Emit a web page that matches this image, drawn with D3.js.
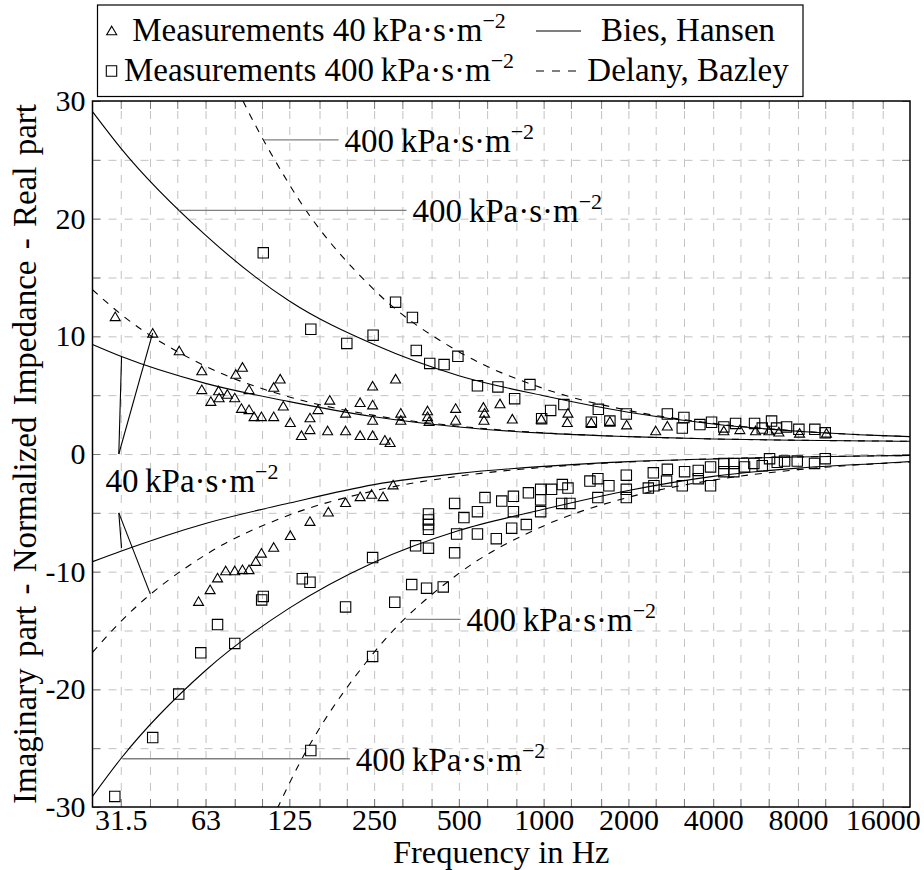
<!DOCTYPE html>
<html>
<head>
<meta charset="utf-8">
<title>Normalized impedance</title>
<script src="https://d3js.org/d3.v7.min.js"></script>
<style>
  body { margin: 0; background: #fff; }
  svg { font-family: "Liberation Serif", "DejaVu Serif", serif; }
</style>
</head>
<body>
<div id="chart"></div>
<script>
// axis ticks
var gridFreqs = [31.5, 40, 50, 63, 80, 100, 125, 160, 200, 250, 315, 400, 500, 630, 800,
                 1000, 1250, 1600, 2000, 2500, 3150, 4000, 5000, 6300, 8000, 10000, 12500, 16000];
var xLabels = [31.5, 63, 125, 250, 500, 1000, 2000, 4000, 8000, 16000];
var yLabels = [-30, -20, -10, 0, 10, 20, 30];
var yGrid = [-25, -20, -15, -10, -5, 0, 5, 10, 15, 20, 25];
var yTickMarks = [-30, -25, -20, -15, -10, -5, 0, 5, 10, 15, 20, 25, 30];

// model curves
var curveFreqs = [25, 31.5, 63, 125, 250, 500, 1000, 2000, 4000, 8000, 16000, 20000];
var biesReal400 = [29.1, 26.0, 18.6, 13.0, 9.3, 6.65, 4.95, 3.55, 2.55, 1.93, 1.56, 1.48];
var biesReal40  = [9.3, 8.3, 6.0, 4.45, 3.17, 2.3, 1.77, 1.48, 1.28, 1.17, 1.10, 1.08];
var biesImag400 = [-29.1, -25.9, -18.4, -13.1, -9.2, -6.5, -4.7, -3.1, -1.9, -1.2, -0.78, -0.65];
var biesImag40  = [-9.15, -8.26, -5.9, -4.17, -2.6, -1.65, -1.05, -0.65, -0.42, -0.25, -0.15, -0.12];
var delanyReal400 = [74.5, 62.8, 37.6, 22.9, 13.96, 8.69, 5.56, 3.70, 2.60, 1.95, 1.56, 1.48];
var delanyReal40  = [13.96, 11.89, 7.46, 4.85, 3.28, 2.36, 1.80, 1.48, 1.28, 1.17, 1.10, 1.08];
var delanyImag400 = [-91.0, -76.8, -46.2, -28.0, -16.86, -10.15, -6.11, -3.68, -2.22, -1.33, -0.80, -0.68];
var delanyImag40  = [-16.86, -14.24, -8.57, -5.19, -3.13, -1.88, -1.13, -0.68, -0.41, -0.25, -0.15, -0.13];

// measurements [frequency, value]
var meas40Real = [[30.1,11.7],[40.9,10.3],[50.8,8.8],[61.1,7.1],[85.2,7.4],[80.7,6.8],[116,6.4],[110,5.7],
  [61.1,5.5],[70.1,5.4],[89.9,5.5],[75.3,5.1],[70.4,4.8],[80.0,4.8],[65.8,4.5],[119,4.1],[84.5,3.9],
  [89.9,3.8],[93.7,3.2],[99.5,3.2],[110,3.2],[126,2.7],[148,3.1],[158,3.8],[148,2.1],[138,1.6],[171,2.0],
  [174,4.6],[198,3.5],[198,2.0],[223,4.4],[223,1.6],[247,5.8],[247,4.2],[247,2.9],[247,1.6],[273,1.2],
  [285,1.0],[298,6.4],[311,3.5],[311,2.9],[387,3.7],[387,3.2],[392,2.8],[487,3.9],[487,2.9],[611,4.0],
  [617,3.5],[614,2.9],[700,4.3],[774,3.0],[981,3.0],[1220,3.5],[1214,2.7],[1477,2.7],[1719,2.8],
  [1971,2.5],[2500,2.0],[2750,2.4],[4365,2.0],[4976,2.1],[5657,2.0],[6307,2.0],[6845,1.9],[8106,1.8],
  [10100,1.8]];
var meas40Imag = [[172,-4.9],[148,-5.7],[126,-6.9],[110,-7.9],[99.5,-8.4],[95.0,-9.1],[89.9,-9.8],
  [85.2,-9.8],[80.0,-9.9],[74.3,-9.9],[69.5,-10.5],[65.4,-11.5],[59.5,-12.5],[198,-4.1],[223,-3.6],
  [245,-3.4],[269,-3.6],[292,-2.6]];
var meas400Real = [[101,17.1],[149,10.6],[200,9.4],[248,10.1],[298,12.9],[342,11.6],[353,8.8],[394,7.7],
  [443,7.6],[496,8.3],[582,5.8],[688,5.7],[789,4.7],[894,5.9],[984,3.0],[1059,3.7],[1180,4.2],[1477,2.7],
  [1564,3.8],[1719,2.8],[1966,3.4],[2750,3.4],[3148,3.1],[3107,2.2],[3588,2.5],[3948,2.7],[4365,2.3],
  [4804,2.6],[5611,2.6],[5975,2.2],[6448,2.8],[6718,2.2],[7290,2.3],[8062,2.1],[9186,2.1],[10000,1.8]];
var meas400Imag = [[30.0,-29.1],[40.9,-24.1],[50.6,-20.4],[60.6,-16.9],[69.5,-14.5],[80.0,-16.1],
  [99.7,-12.4],[101,-12.1],[139,-10.6],[148,-10.9],[149,-25.2],[198,-13.0],[247,-17.2],[296,-12.6],
  [340,-11.1],[384,-11.4],[440,-11.3],[247,-8.8],[351,-7.8],[390,-5.1],[390,-5.6],[390,-6.0],[390,-6.4],
  [390,-8.0],[483,-4.2],[521,-5.4],[491,-6.8],[483,-8.4],[582,-4.9],[582,-6.8],[619,-3.7],[679,-7.2],
  [710,-4.0],[781,-3.6],[781,-4.9],[770,-6.3],[883,-3.3],[868,-6.0],[976,-3.0],[976,-3.9],[976,-4.9],
  [1067,-3.0],[1165,-2.6],[1220,-2.9],[1159,-4.2],[1240,-4.2],[1460,-2.3],[1558,-2.1],[1558,-3.7],
  [1705,-2.7],[1966,-1.8],[1966,-3.0],[1966,-3.7],[2354,-2.9],[2464,-2.7],[2452,-1.6],[2750,-1.3],
  [2733,-2.3],[3107,-2.7],[3166,-1.5],[3541,-1.4],[3541,-2.1],[3915,-1.1],[3915,-2.7],[4365,-0.8],
  [4365,-1.5],[4737,-0.8],[4737,-1.5],[5170,-1.1],[5579,-0.8],[5975,-1.0],[6343,-0.4],[6755,-0.7],
  [7171,-0.6],[7955,-0.6],[9164,-0.8],[10000,-0.4]];

// pinned labels: anchor [freq, value] on a curve, line runs to endFreq
var pins400 = [
  {anchor: [101.7, 26.7], endFreq: 187},
  {anchor: [50.8, 20.7], endFreq: 326},
  {anchor: [31.9, -25.9], endFreq: 205},
  {anchor: [324, -14.05], endFreq: 507}
];
var pin40Top = [[31.0, 0], [31.7, 8.25], [40.9, 10.3]];
var pin40Bottom = [[31.0, -5.0], [31.7, -7.98], [40.1, -11.89]];
var pin40Text = [27.8, -3.2];

var width = 924, height = 870;
var plot = {left: 92.5, right: 910, top: 101, bottom: 807};
var plotW = plot.right - plot.left, plotH = plot.bottom - plot.top;

var svg = d3.select("#chart").append("svg")
    .attr("width", width)
    .attr("height", height)
    .attr("font-family", "'Liberation Serif', 'DejaVu Serif', serif");
svg.append("rect").attr("width", width).attr("height", height).attr("fill", "#fff");

var x = d3.scaleLog().domain([25, 20000]).range([plot.left, plot.right]);
var y = d3.scaleLinear().domain([-30, 30]).range([plot.bottom, plot.top]);

// grid
svg.append("g").attr("class", "grid")
    .attr("transform", "translate(0," + plot.bottom + ")")
    .call(d3.axisBottom(x).tickValues(gridFreqs).tickSize(-plotH).tickFormat(""))
    .call(g => g.select(".domain").remove());
svg.append("g").attr("class", "grid")
    .attr("transform", "translate(" + plot.left + ",0)")
    .call(d3.axisLeft(y).tickValues(yGrid).tickSize(-plotW).tickFormat(""))
    .call(g => g.select(".domain").remove());
svg.selectAll(".grid line")
    .attr("stroke", "#c2c2c2")
    .attr("stroke-width", 1)
    .attr("stroke-dasharray", "8,8");

// inward tick marks on all four sides
function tickMarks(axis, tx, ty) {
    svg.append("g").attr("class", "tickmarks")
        .attr("transform", "translate(" + tx + "," + ty + ")")
        .call(axis.tickSize(-8).tickFormat(""))
        .call(g => g.select(".domain").remove());
}
tickMarks(d3.axisBottom(x).tickValues(gridFreqs), 0, plot.bottom);
tickMarks(d3.axisTop(x).tickValues(gridFreqs), 0, plot.top);
tickMarks(d3.axisLeft(y).tickValues(yTickMarks), plot.left, 0);
tickMarks(d3.axisRight(y).tickValues(yTickMarks), plot.right, 0);
svg.selectAll(".tickmarks line").attr("stroke", "#7a7a7a").attr("stroke-width", 1);

// tick labels
svg.append("g")
    .attr("transform", "translate(0," + plot.bottom + ")")
    .call(d3.axisBottom(x).tickValues(xLabels).tickSize(0).tickFormat(d => String(d)))
    .call(g => g.select(".domain").remove())
    .attr("font-family", null).attr("font-size", 30)
    .selectAll("text").attr("y", 23).attr("dy", 0).attr("fill", "#000");
svg.append("g")
    .attr("transform", "translate(" + plot.left + ",0)")
    .call(d3.axisLeft(y).tickValues(yLabels).tickSize(0).tickPadding(7).tickFormat(d => String(d)))
    .call(g => g.select(".domain").remove())
    .attr("font-family", null).attr("font-size", 30)
    .selectAll("text").attr("fill", "#000");

// axis titles
svg.append("text")
    .attr("x", (plot.left + plot.right) / 2)
    .attr("y", 863)
    .attr("text-anchor", "middle")
    .attr("font-size", 32.5)
    .text("Frequency in Hz");
svg.append("text")
    .attr("transform", "translate(36," + (plot.top + plot.bottom) / 2 + ") rotate(-90)")
    .attr("text-anchor", "middle")
    .attr("font-size", 33)
    .attr("word-spacing", 3)
    .text("Imaginary part - Normalized Impedance - Real part");

// clip
svg.append("clipPath").attr("id", "plotClip")
    .append("rect")
    .attr("x", plot.left).attr("y", plot.top)
    .attr("width", plotW).attr("height", plotH);

var content = svg.append("g").attr("clip-path", "url(#plotClip)");

var line = d3.line()
    .x(d => x(d[0]))
    .y(d => y(d[1]))
    .curve(d3.curveMonotoneX);

var curves = [
    {values: biesReal400, dashed: false},
    {values: biesReal40, dashed: false},
    {values: biesImag400, dashed: false},
    {values: biesImag40, dashed: false},
    {values: delanyReal400, dashed: true},
    {values: delanyReal40, dashed: true},
    {values: delanyImag400, dashed: true},
    {values: delanyImag40, dashed: true}
];
curves.forEach(function(c) {
    content.append("path")
        .datum(curveFreqs.map((f, i) => [f, c.values[i]]))
        .attr("fill", "none")
        .attr("stroke", "#000")
        .attr("stroke-width", 1.1)
        .attr("stroke-dasharray", c.dashed ? "7,7" : null)
        .attr("d", line);
});

// markers
var triPath = "M0,-4.3L5,4.3L-5,4.3Z";
var sqPath = "M-5.2,-5.2H5.2V5.2H-5.2Z";
function marks(data, path) {
    content.append("g").selectAll("path")
        .data(data)
        .enter().append("path")
        .attr("d", path)
        .attr("transform", d => "translate(" + x(d[0]) + "," + y(d[1]) + ")")
        .attr("fill", "none")
        .attr("stroke", "#000")
        .attr("stroke-width", 1.1);
}
marks(meas40Real, triPath);
marks(meas40Imag, triPath);
marks(meas400Real, sqPath);
marks(meas400Imag, sqPath);

// unit label helper
function unitText(g, tx, ty, value, anchor) {
    var t = g.append("text")
        .attr("x", tx).attr("y", ty)
        .attr("font-size", 33)
        .attr("text-anchor", anchor || "start");
    t.append("tspan").text(value + "\u2009kPa\u00b7s\u00b7m");
    t.append("tspan").attr("dy", -13).attr("font-size", 22).text("\u22122");
    return t;
}

// 400 kPa pins
pins400.forEach(function(p) {
    var ax = x(p.anchor[0]), ay = y(p.anchor[1]), ex = x(p.endFreq);
    svg.append("line")
        .attr("x1", ax).attr("y1", ay).attr("x2", ex).attr("y2", ay)
        .attr("stroke", "#808080").attr("stroke-width", 1.3);
    unitText(svg, ex + 6, ay + 12, "400");
});

// 40 kPa pins
[pin40Top, pin40Bottom].forEach(function(p) {
    [p[1], p[2]].forEach(function(q) {
        svg.append("line")
            .attr("x1", x(p[0][0])).attr("y1", y(p[0][1]))
            .attr("x2", x(q[0])).attr("y2", y(q[1]))
            .attr("stroke", "#000").attr("stroke-width", 1.1);
    });
});
unitText(svg, x(pin40Text[0]), y(pin40Text[1]), "40");

// frame
svg.append("rect")
    .attr("x", plot.left).attr("y", plot.top)
    .attr("width", plotW).attr("height", plotH)
    .attr("fill", "none").attr("stroke", "#000").attr("stroke-width", 1.5);

// legend
var legend = svg.append("g");
legend.append("rect")
    .attr("x", 97.5).attr("y", 5)
    .attr("width", 705.5).attr("height", 91.5)
    .attr("fill", "#fff").attr("stroke", "#000").attr("stroke-width", 1.2);
legend.append("path").attr("d", triPath).attr("transform", "translate(111.7,30.5)")
    .attr("fill", "none").attr("stroke", "#000").attr("stroke-width", 1.1);
legend.append("path").attr("d", sqPath).attr("transform", "translate(111.5,71)")
    .attr("fill", "none").attr("stroke", "#000").attr("stroke-width", 1.1);
unitText(legend, 319, 41, "Measurements 40", "middle");
unitText(legend, 319, 81, "Measurements 400", "middle");
legend.append("line").attr("x1", 536).attr("x2", 581).attr("y1", 31).attr("y2", 31)
    .attr("stroke", "#000").attr("stroke-width", 1.1);
legend.append("line").attr("x1", 536).attr("x2", 577).attr("y1", 71).attr("y2", 71)
    .attr("stroke", "#000").attr("stroke-width", 1.1).attr("stroke-dasharray", "8,8");
legend.append("text").attr("x", 688).attr("y", 41).attr("text-anchor", "middle")
    .attr("font-size", 33).text("Bies, Hansen");
legend.append("text").attr("x", 688).attr("y", 81).attr("text-anchor", "middle")
    .attr("font-size", 33).text("Delany, Bazley");
</script>
</body>
</html>
